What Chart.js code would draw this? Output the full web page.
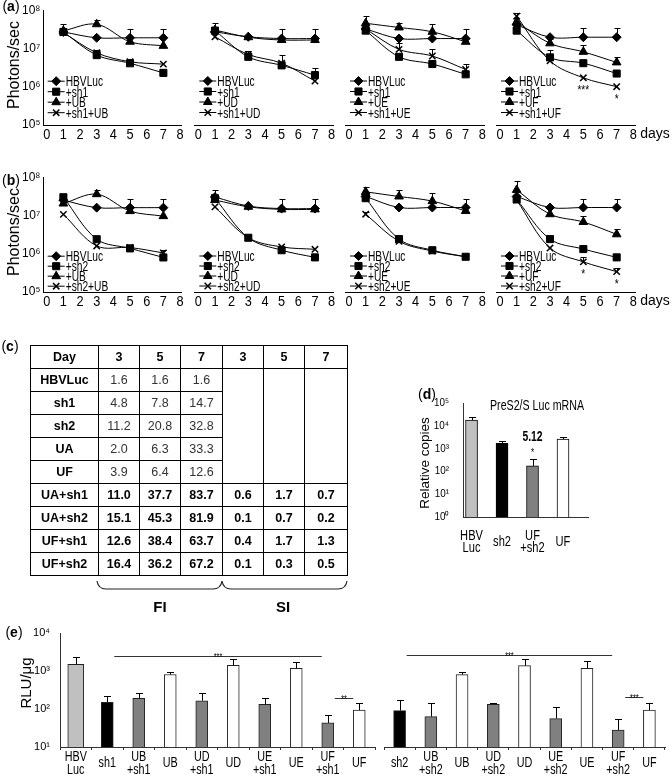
<!DOCTYPE html>
<html><head><meta charset="utf-8">
<script src="https://cdn.jsdelivr.net/npm/chart.js@4.4.1/dist/chart.umd.min.js"></script>
<style>
html,body{margin:0;padding:0;background:#fff;}
body{position:relative;width:672px;height:776px;overflow:hidden;font-family:'Liberation Sans',Arial,Helvetica,sans-serif;color:#000;}
canvas{position:absolute;}
.lbl{position:absolute;white-space:nowrap;line-height:1;transform:translate(-50%,-50%);}
.rot{transform:translate(-50%,-50%) rotate(-90deg);}
#tbl{position:absolute;left:30px;top:345px;border-collapse:collapse;table-layout:fixed;width:317px;font-size:12.5px;}
#tbl td{border:1px solid #000;padding:0;text-align:center;height:22px;line-height:14px;}
#tbl td.b{font-weight:bold;color:#000;}
#tbl td.n{font-weight:normal;color:#333;}
svg{position:absolute;left:0;top:0;}
</style></head><body>
<div class="lbl" style="left:11px;top:6px;font-size:14px">(<b>a</b>)</div>
<div class="lbl" style="left:11px;top:180px;font-size:14px">(<b>b</b>)</div>
<div class="lbl" style="left:10px;top:346px;font-size:14px">(<b>c</b>)</div>
<div class="lbl" style="left:427px;top:394px;font-size:14px">(<b>d</b>)</div>
<div class="lbl" style="left:14px;top:632px;font-size:14px">(<b>e</b>)</div>
<div class="lbl rot" style="left:14px;top:65px;font-size:16px">Photons/sec</div>
<div class="lbl rot" style="left:14px;top:232px;font-size:16px">Photons/sec</div>
<div class="lbl" style="left:655px;top:133px;font-size:14px">days</div>
<div class="lbl" style="left:655px;top:300px;font-size:14px">days</div>
<div class="lbl" style="left:160px;top:606px;font-size:15px;font-weight:bold">FI</div>
<div class="lbl" style="left:283px;top:606px;font-size:15px;font-weight:bold">SI</div>
<div class="lbl" style="left:537px;top:405px;font-size:14px;transform:translate(-50%,-50%) scaleX(0.76)">PreS2/S Luc mRNA</div>
<div class="lbl rot" style="left:425px;top:463px;font-size:13.5px">Relative copies</div>
<div class="lbl rot" style="left:25px;top:683px;font-size:15px">RLU/μg</div>
<svg width="672" height="776">
<path d="M97,581 C98,587 101,589 106,589 L213,589 C218,589 221,587 222,581 C223,587 226,589 231,589 L338,589 C343,589 346,587 347,581" fill="none" stroke="#222" stroke-width="1.2"/>
</svg>
<script>
const FONT = "'Liberation Sans', Arial, Helvetica, sans-serif";

// ================= DATA =================
const days = [1, 3, 5, 7];
const dayTicks = ['0','1','2','3','4','5','6','7','8'];
const photonTicks = [1e5, 1e6, 1e7, 1e8];
const uNames = ['UB', 'UD', 'UE', 'UF'];

// (a) HBVLuc +sh1, one row per U construct (UB, UD, UE, UF); values for days 1,3,5,7
const aHBVLuc = [[2.7e7,1.9e7,1.9e7,1.9e7],[2.7e7,2.0e7,1.8e7,1.8e7],[3.2e7,1.8e7,1.8e7,1.8e7],[4.1e7,1.95e7,1.95e7,1.95e7]];
const aSh1    = [[2.7e7,6.7e6,4.1e6,2.3e6],[2.9e7,6.0e6,3.6e6,2.0e6],[2.9e7,6.0e6,3.9e6,2.1e6],[2.9e7,5.8e6,4.1e6,2.2e6]];
const aU      = [[2.9e7,4.3e7,1.5e7,1.17e7],[3.0e7,1.95e7,1.65e7,1.65e7],[4.5e7,3.5e7,2.7e7,1.48e7],[4.9e7,1.35e7,8.1e6,4.3e6]];
const aSh1U   = [[2.6e7,7.7e6,4.5e6,3.9e6],[2.0e7,6.9e6,4.1e6,1.4e6],[3.2e7,9.4e6,6.3e6,2.8e6],[6.9e7,4.7e6,1.7e6,1.0e6]];
// upper ends of error bars
const aHBVLucErr = [[4.3e7,null,3.3e7,3.3e7],[4.5e7,null,3.2e7,3.2e7],[null,null,null,null],[null,null,3.3e7,3.3e7]];
const aSh1Err    = [[null,null,null,null],[null,null,6.8e6,3.0e6],[null,null,null,null],[null,9.3e6,null,null]];
const aUErr      = [[null,5.7e7,null,null],[null,null,null,null],[6.8e7,4.7e7,4.3e7,3.2e7],[null,1.8e7,1.23e7,6.0e6]];
const aSh1UErr   = [[null,9.1e6,5.2e6,null],[null,8.5e6,null,null],[null,1.35e7,9.4e6,3.8e6],[8.5e7,null,null,null]];
const aSh1UStars = [['','','',''],['','','',''],['','','',''],['','','***','*']];

// (b) HBVLuc +sh2
const bHBVLuc = [[2.5e7,1.6e7,1.6e7,1.6e7],[3.0e7,1.75e7,1.5e7,1.5e7],[3.1e7,1.6e7,1.6e7,1.6e7],[3.1e7,1.6e7,1.6e7,1.6e7]];
const bSh2    = [[3.0e7,2.4e6,1.38e6,8.0e5],[2.8e7,2.6e6,1.23e6,8.0e5],[2.8e7,2.4e6,1.23e6,8.3e5],[2.6e7,2.4e6,1.32e6,8.0e5]];
const bU      = [[2.05e7,3.6e7,1.3e7,9.6e6],[2.5e7,1.67e7,1.43e7,1.43e7],[4.1e7,3.1e7,2.35e7,1.3e7],[4.6e7,1.07e7,6.7e6,3.2e6]];
const bSh2U   = [[1.07e7,1.6e6,1.45e6,1.05e6],[1.66e7,2.6e6,1.5e6,1.3e6],[1.07e7,2.1e6,1.17e6,8.3e5],[2.5e7,1.4e6,6.1e5,3.4e5]];
const bHBVLucErr = [[null,null,2.7e7,2.7e7],[4.6e7,null,2.7e7,2.7e7],[null,null,null,null],[null,null,2.7e7,2.7e7]];
const bSh2Err    = [[3.7e7,null,null,null],[null,null,null,null],[null,null,1.5e6,null],[null,null,null,null]];
const bUErr      = [[null,4.6e7,null,null],[null,null,null,null],[5.6e7,4.5e7,3.9e7,2.7e7],[7.9e7,null,9.6e6,4.5e6]];
const bSh2UErr   = [[null,null,1.65e6,1.25e6],[null,null,null,null],[1.25e7,null,null,null],[null,null,8.0e5,4.2e5]];
const bSh2UStars = [['','','',''],['','','',''],['','','',''],['','','*','*']];

// (c) table
const tableDays = [3, 5, 7];
const tableRows = ['HBVLuc','sh1','sh2','UA','UF','UA+sh1','UA+sh2','UF+sh1','UF+sh2'];
const tableFI = [[1.6,1.6,1.6],[4.8,7.8,14.7],[11.2,20.8,32.8],[2.0,6.3,33.3],[3.9,6.4,12.6],[11.0,37.7,83.7],[15.1,45.3,81.9],[12.6,38.4,63.7],[16.4,36.2,67.2]];
const tableSI = [null,null,null,null,null,[0.6,1.7,0.7],[0.1,0.7,0.2],[0.4,1.7,1.3],[0.1,0.3,0.5]];

// (d) PreS2/S Luc mRNA
const dLabels = [['HBV','Luc'],['sh2'],['UF','+sh2'],['UF']];
const dValues = [1.8e4, 1.7e3, 174, 2.6e3];
const dErr    = [2.5e4, 2.1e3, 340, 3.2e3];
const dFold   = ['', '', '5.12', ''];
const dStars  = ['', '', '*', ''];
const dTicks  = [1, 10, 100, 1e3, 1e4, 1e5];

// (e) RLU/ug
const eLeftLabels = [['HBV','Luc'],['sh1'],['UB','+sh1'],['UB'],['UD','+sh1'],['UD'],['UE','+sh1'],['UE'],['UF','+sh1'],['UF']];
const eLeftValues = [1500, 150, 190, 810, 165, 1400, 132, 1170, 43, 93];
const eLeftErr    = [2400, 219, 257, 955, 269, 2090, 190, 1700, 69, 141];
const eRightLabels = [['sh2'],['UB','+sh2'],['UB'],['UD','+sh2'],['UD'],['UE','+sh2'],['UE'],['UF','+sh2'],['UF']];
const eRightValues = [91, 63, 800, 133, 1380, 56, 1170, 28, 93];
const eRightErr    = [174, 141, 955, 148, 2090, 110, 1820, 56, 141];
const eLeftSig  = [[1, 8, 2450, '***'], [8, 9, 195, '**']];
const eRightSig = [[0, 7, 2600, '***'], [7, 8, 209, '***']];
const eTicks = [10, 100, 1000, 10000];

// ================= HELPERS =================
const SUP = {'0':'\u2070','1':'\u00B9','2':'\u00B2','3':'\u00B3','4':'\u2074','5':'\u2075','6':'\u2076','7':'\u2077','8':'\u2078','9':'\u2079'};
function pow10Label(v){ const e = Math.round(Math.log10(v)); return '10' + String(e).split('').map(c=>SUP[c]).join(''); }

function narrow(ctx, map){
  const orig = ctx.fillText;
  ctx.fillText = function(t, x, y){
    const s = map[this.textAlign];
    if (!s || s === 1) return orig.call(this, t, x, y);
    this.save(); this.translate(x, y); this.scale(s, 1); orig.call(this, t, 0, 0); this.restore();
  };
}
function mk(left, top, w, h, map){
  const c = document.createElement('canvas');
  c.width = w; c.height = h;
  c.style.left = left + 'px'; c.style.top = top + 'px';
  c.style.width = w + 'px'; c.style.height = h + 'px';
  document.body.insertBefore(c, document.body.firstChild);
  narrow(c.getContext('2d'), map);
  return c;
}

const errPlugin = {
  id: 'errBars',
  afterDatasetsDraw(chart, args, o){
    const ctx = chart.ctx, ys = chart.scales.y;
    ctx.save(); ctx.strokeStyle = '#000'; ctx.lineWidth = 1;
    chart.data.datasets.forEach((ds, di) => {
      if (!ds.errUp) return;
      const meta = chart.getDatasetMeta(di);
      ds.errUp.forEach((e, j) => {
        if (e == null) return;
        const el = meta.data[j]; if (!el) return;
        const x = Math.round(el.x) + 0.5, y0 = el.y, y1 = Math.round(ys.getPixelForValue(e)) + 0.5;
        ctx.beginPath(); ctx.moveTo(x, y0); ctx.lineTo(x, y1);
        ctx.moveTo(x - o.cap, y1); ctx.lineTo(x + o.cap, y1); ctx.stroke();
      });
    });
    ctx.restore();
  }
};

const lineLegendPlugin = {
  id: 'lineLegend',
  afterDatasetsDraw(chart, args, o){
    const ctx = chart.ctx, xs = chart.scales.x;
    const x0 = xs.getPixelForValue(0) + o.dx;
    ctx.save();
    chart.data.datasets.forEach((ds, i) => {
      const y = chart.chartArea.top + o.top + i * o.step;
      ctx.strokeStyle = '#000'; ctx.fillStyle = '#000'; ctx.lineWidth = 1;
      ctx.beginPath(); ctx.moveTo(x0, y); ctx.lineTo(x0 + 17, y); ctx.stroke();
      ctx.lineWidth = ds.pointBorderWidth;
      Chart.helpers.drawPoint(ctx, {pointStyle: ds.pointStyle, radius: ds.pointRadius, borderWidth: ds.pointBorderWidth, rotation: 0}, x0 + 8.5, y);
      ctx.font = '15px ' + FONT; ctx.textAlign = 'left'; ctx.textBaseline = 'middle';
      ctx.fillText(ds.label, x0 + 18, y + 1);
    });
    ctx.restore();
  }
};

const starPlugin = {
  id: 'pointStars',
  afterDatasetsDraw(chart){
    const ctx = chart.ctx;
    ctx.save(); ctx.fillStyle = '#000'; ctx.font = '12px ' + FONT; ctx.textAlign = 'center'; ctx.textBaseline = 'middle';
    chart.data.datasets.forEach((ds, di) => {
      if (!ds.stars) return;
      const meta = chart.getDatasetMeta(di);
      ds.stars.forEach((t, j) => { if (t) ctx.fillText(t, meta.data[j].x, meta.data[j].y + 13); });
    });
    ctx.restore();
  }
};

const barLabelPlugin = {
  id: 'barLabels',
  afterDraw(chart, args, o){
    const ctx = chart.ctx, xs = chart.scales.x, bottom = chart.chartArea.bottom;
    ctx.save(); ctx.fillStyle = '#000'; ctx.font = o.size + 'px ' + FONT; ctx.textAlign = 'center'; ctx.textBaseline = 'middle';
    o.labels.forEach((lines, i) => {
      const x = xs.getPixelForValue(i);
      if (lines.length === 1) ctx.fillText(lines[0], x, bottom + o.single);
      else lines.forEach((t, k) => ctx.fillText(t, x, bottom + o.multi[k]));
    });
    ctx.restore();
  }
};

const sigPlugin = {
  id: 'sig',
  afterDatasetsDraw(chart, args, o){
    if (!o.marks) return;
    const ctx = chart.ctx, xs = chart.scales.x, ys = chart.scales.y;
    ctx.save(); ctx.strokeStyle = '#333'; ctx.fillStyle = '#000'; ctx.lineWidth = 1;
    ctx.font = '10px ' + FONT; ctx.textAlign = 'center'; ctx.textBaseline = 'alphabetic';
    o.marks.forEach(([a, b, v, t]) => {
      const x1 = xs.getPixelForValue(a) + 7, x2 = xs.getPixelForValue(b) - 6;
      const y = Math.round(ys.getPixelForValue(v)) + 0.5;
      ctx.beginPath(); ctx.moveTo(x1, y); ctx.lineTo(x2, y); ctx.stroke();
      ctx.fillText(t, (x1 + x2) / 2, y + 4);
    });
    ctx.restore();
  }
};

const notePlugin = {
  id: 'barNotes',
  afterDatasetsDraw(chart, args, o){
    if (!o.fold) return;
    const ctx = chart.ctx, ys = chart.scales.y, meta = chart.getDatasetMeta(0);
    ctx.save(); ctx.fillStyle = '#000'; ctx.textAlign = 'center'; ctx.textBaseline = 'middle';
    o.fold.forEach((t, j) => {
      const x = meta.data[j].x, yTop = ys.getPixelForValue(o.err[j]);
      if (o.stars[j]) { ctx.font = '11px ' + FONT; ctx.fillText(o.stars[j], x, yTop - 6); }
      if (t) { ctx.font = 'bold 14px ' + FONT; ctx.fillText(t, x, yTop - 22); }
    });
    ctx.restore();
  }
};

// ================= LINE CHARTS (a), (b) =================
const DAY0 = [46.7, 198.3, 349, 500];
const DAY_PX = 16.667, X_MIN = -0.2, X_MAX = 8.1, PLOT_H = 115;
const PSTYLE = ['rectRot', 'rect', 'triangle', 'crossRot'];
const PRAD = [4.5, 5, 5, 4.5];

function makeLine(k, plotTop, sh, vals, errs, stars, legTop, legStep){
  const u = uNames[k];
  const labels = ['HBVLuc', '+' + sh, '+' + u, '+' + sh + '+' + u];
  const plotLeft = DAY0[k] + X_MIN * DAY_PX;
  const plotW = (X_MAX - X_MIN) * DAY_PX;
  const showY = k === 0, yW = showY ? 38 : 0, padT = 10, xH = 20;
  const cl = Math.round(plotLeft - yW - (showY ? 3 : 8));
  const pl = plotLeft - yW - cl;
  const w = Math.ceil(pl + yW + plotW + 8);
  const pr = w - (pl + yW + plotW);
  const c = mk(cl, plotTop - padT, w, padT + PLOT_H + xH, {center: 0.85, left: 0.68, right: 1});
  new Chart(c, {
    type: 'line',
    data: { datasets: vals.map((s, i) => ({
      label: labels[i],
      data: days.map((d, j) => ({x: d, y: s[j]})),
      borderColor: '#000', backgroundColor: '#000', borderWidth: 1,
      pointStyle: PSTYLE[i], pointRadius: PRAD[i], pointBorderWidth: i === 3 ? 1.5 : 1,
      pointBackgroundColor: '#000', pointBorderColor: '#000',
      tension: 0.35, errUp: errs[i], stars: i === 3 ? stars : null
    }))},
    options: {
      responsive: false, animation: false, devicePixelRatio: 1,
      layout: {padding: {left: pl, right: pr, top: padT, bottom: 0}},
      plugins: {legend: {display: false}, tooltip: {enabled: false},
        errBars: {cap: 3}, lineLegend: {dx: 1, top: legTop, step: legStep}},
      scales: {
        x: {type: 'linear', min: X_MIN, max: X_MAX,
          grid: {display: false, drawTicks: false}, border: {display: true, color: '#000', width: 1},
          afterBuildTicks: s => { s.ticks = dayTicks.map((_, i) => ({value: i})); },
          afterFit: s => { s.height = xH; },
          ticks: {color: '#000', font: {family: FONT, size: 15}, padding: 1, maxRotation: 0, autoSkip: false,
            callback: v => dayTicks[Math.round(v)]}},
        y: {type: 'logarithmic', min: photonTicks[0], max: photonTicks[photonTicks.length - 1], display: showY,
          grid: {display: false, drawTicks: false}, border: {display: true, color: '#000', width: 1},
          afterBuildTicks: s => { s.ticks = photonTicks.map(v => ({value: v})); },
          afterFit: s => { s.width = yW; },
          ticks: {color: '#000', font: {family: FONT, size: 12}, padding: 3, callback: v => pow10Label(v)}}
      }
    },
    plugins: [errPlugin, lineLegendPlugin, starPlugin]
  });
}

for (let k = 0; k < 4; k++) {
  makeLine(k, 10, 'sh1', [aHBVLuc[k], aSh1[k], aU[k], aSh1U[k]], [aHBVLucErr[k], aSh1Err[k], aUErr[k], aSh1UErr[k]], aSh1UStars[k], 71, 10.5);
  makeLine(k, 177, 'sh2', [bHBVLuc[k], bSh2[k], bU[k], bSh2U[k]], [bHBVLucErr[k], bSh2Err[k], bUErr[k], bSh2UErr[k]], bSh2UStars[k], 79, 10);
}

// ================= TABLE (c) =================
(function(){
  const t = document.createElement('table'); t.id = 'tbl';
  const cg = document.createElement('colgroup');
  [68, 41, 41, 42, 41, 41, 43].forEach(w => { const col = document.createElement('col'); col.style.width = w + 'px'; cg.appendChild(col); });
  t.appendChild(cg);
  const hr = document.createElement('tr');
  ['Day', ...tableDays, ...tableDays].forEach(h => { const td = document.createElement('td'); td.className = 'b'; td.textContent = h; hr.appendChild(td); });
  t.appendChild(hr);
  const emptySI = tableSI.filter(s => s === null).length;
  tableRows.forEach((name, i) => {
    const tr = document.createElement('tr');
    const th = document.createElement('td'); th.className = 'b'; th.textContent = name; tr.appendChild(th);
    const strong = tableSI[i] !== null;
    tableFI[i].forEach(v => { const td = document.createElement('td'); td.className = strong ? 'b' : 'n'; td.textContent = v.toFixed(1); tr.appendChild(td); });
    if (strong) {
      tableSI[i].forEach(v => { const td = document.createElement('td'); td.className = 'b'; td.textContent = v.toFixed(1); tr.appendChild(td); });
    } else if (i === 0) {
      for (let k = 0; k < 3; k++) { const td = document.createElement('td'); td.rowSpan = emptySI; tr.appendChild(td); }
    }
    t.appendChild(tr);
  });
  document.body.appendChild(t);
})();

// ================= BAR CHARTS (d), (e) =================
function barColor(lines){
  const s = lines.join(' ');
  if (s === 'HBV Luc') return '#c0c0c0';
  if (/^sh\d$/.test(s)) return '#000';
  if (s.indexOf('+') >= 0) return '#808080';
  return '#fff';
}
function logY(ticks, yW, pad, show){
  return {type: 'logarithmic', min: ticks[0], max: ticks[ticks.length - 1], display: show,
    grid: {display: false, drawTicks: false}, border: {display: true, color: '#333', width: 1},
    afterBuildTicks: s => { s.ticks = ticks.map(v => ({value: v})); },
    afterFit: s => { s.width = yW; },
    ticks: {color: '#000', font: {family: FONT, size: 11}, padding: pad, callback: v => pow10Label(v)}};
}

// (d)
(function(){
  const plotLeft = 463, plotRight = 588, plotTop = 403, plotH = 114, yW = 44, padL = 2, padT = 26, xH = 40;
  const cl = plotLeft - yW - padL;
  const w = plotRight - cl + 6;
  const c = mk(cl, plotTop - padT, w, padT + plotH + xH, {center: 0.74, right: 0.9});
  new Chart(c, {
    type: 'bar',
    data: {datasets: [{
      data: dValues.map((v, i) => ({x: i, y: v})),
      backgroundColor: dLabels.map(barColor), borderColor: '#000', borderWidth: 1,
      barThickness: 12, errUp: dErr
    }]},
    options: {
      responsive: false, animation: false, devicePixelRatio: 1,
      layout: {padding: {left: padL, right: 6, top: padT, bottom: 0}},
      plugins: {legend: {display: false}, tooltip: {enabled: false}, errBars: {cap: 3.5},
        barLabels: {labels: dLabels, size: 15, multi: [19, 31], single: 25},
        barNotes: {fold: dFold, stars: dStars, err: dErr}},
      scales: {
        x: {type: 'linear', offset: false, min: -0.28, max: 3.82, grid: {display: false, drawTicks: false},
          border: {display: true, color: '#333', width: 1}, ticks: {display: false}, afterFit: s => { s.height = xH; }},
        y: logY(dTicks, yW, 14, true)
      }
    },
    plugins: [errPlugin, barLabelPlugin, notePlugin]
  });
})();

// (e)
function makeE(labels, values, errs, sig, plotLeft, plotRight, showY){
  const plotTop = 633, plotH = 114, yW = showY ? 46 : 0, padL = showY ? 4 : 6, padT = 20, xH = 29;
  const cl = plotLeft - yW - padL;
  const w = Math.round(plotRight - cl + 6);
  const c = mk(cl, plotTop - padT, w, padT + plotH + xH, {center: 0.72, right: 1});
  const colors = labels.map(barColor);
  const wide = labels.map(l => l.join(' ') === 'HBV Luc');
  const dsBase = {backgroundColor: colors, borderColor: '#222', borderWidth: 1, grouped: false};
  const datasets = [
    Object.assign({}, dsBase, {data: values.map((v, i) => wide[i] ? null : v), errUp: errs.map((v, i) => wide[i] ? null : v), barThickness: 12})
  ];
  if (wide.some(x => x)) datasets.push(Object.assign({}, dsBase, {data: values.map((v, i) => wide[i] ? v : null), errUp: errs.map((v, i) => wide[i] ? v : null), barThickness: 16}));
  new Chart(c, {
    type: 'bar',
    data: {labels: labels.map(l => l.join(' ')), datasets},
    options: {
      responsive: false, animation: false, devicePixelRatio: 1,
      layout: {padding: {left: padL, right: 6, top: padT, bottom: 0}},
      plugins: {legend: {display: false}, tooltip: {enabled: false}, errBars: {cap: 3.5},
        barLabels: {labels: labels, size: 15, multi: [10, 23], single: 16},
        sig: {marks: sig}},
      scales: {
        x: {type: 'category', offset: true,
          grid: {display: true, drawOnChartArea: false, drawTicks: true, tickLength: 3, color: '#333', offset: true},
          border: {display: true, color: '#333', width: 1}, ticks: {display: false}, afterFit: s => { s.height = xH; }},
        y: logY(eTicks, yW, 10, showY)
      }
    },
    plugins: [errPlugin, barLabelPlugin, sigPlugin]
  });
}
makeE(eLeftLabels, eLeftValues, eLeftErr, eLeftSig, 60, 375, true);
makeE(eRightLabels, eRightValues, eRightErr, eRightSig, 384, 665, false);
</script>
</body></html>
